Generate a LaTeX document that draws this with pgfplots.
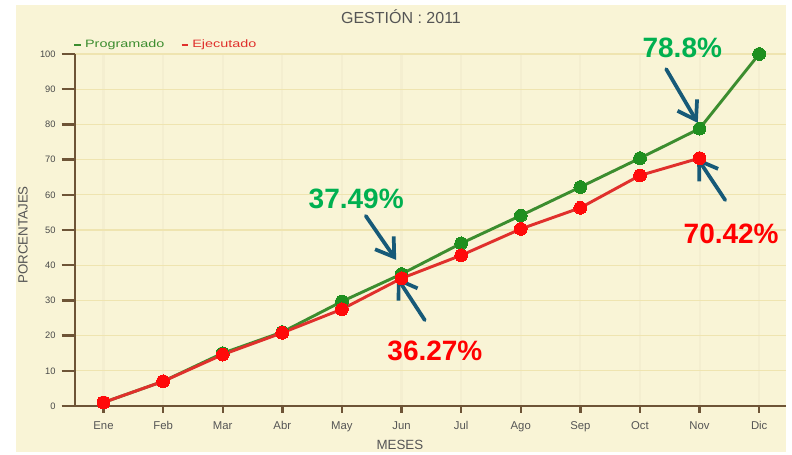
\documentclass[border=0pt]{standalone}
\usepackage{fontspec}
\setmainfont{Liberation Sans}
\newfontfamily\legfont{Liberation Sans}[FakeStretch=1.35]
\usepackage{pgfplots}
\pgfplotsset{compat=1.18}
\usetikzlibrary{arrows.meta}
\definecolor{panel}{HTML}{F9F4D6}
\definecolor{gridc}{HTML}{EFE4B0}
\definecolor{vgridc}{HTML}{F4EED0}
\definecolor{axisc}{HTML}{6E5436}
\definecolor{pgline}{HTML}{3C8D2F}
\definecolor{pgmark}{HTML}{1F8F1F}
\definecolor{exline}{HTML}{E0302C}
\definecolor{exmark}{HTML}{FF0A0A}
\definecolor{annG}{HTML}{00B050}
\definecolor{annR}{HTML}{FF0000}
\definecolor{arrc}{HTML}{175A78}
\definecolor{txtc}{HTML}{555555}
\definecolor{tickc}{HTML}{4A4A4A}
\begin{document}
\begin{tikzpicture}
\begin{scope}[x=0.75pt,y=-0.75pt,xshift=-56.25pt,yshift=304.5pt]
\fill[white] (0,0) rectangle (792,452);
\fill[panel] (16,5) rectangle (786,452);
\useasboundingbox (0,0) rectangle (792,452);
\end{scope}
\begin{axis}[
  at={(0,0)}, anchor=south west,
  scale only axis,
  width=533.25pt, height=264pt,
  xmin=-0.478, xmax=11.45, ymin=0, ymax=100,
  clip=false,
  axis x line=bottom, axis y line=left,
  axis line style={-, draw=axisc, line width=2pt},
  xtick={0,...,11},
  xticklabels={Ene,Feb,Mar,Abr,May,Jun,Jul,Ago,Sep,Oct,Nov,Dic},
  ytick={0,10,...,100},
  tick align=outside,
  major tick length=10pt,
  tick style={draw=axisc, line width=1.8pt},
  xtick style={/pgfplots/major tick length=5pt},
  /pgf/number format/assume math mode=true,
  yticklabel style={font=\fontsize{7}{8}\selectfont, text=tickc, xshift=-1pt},
  xticklabel style={font=\fontsize{8.5}{9}\selectfont, text=txtc, yshift=2.5pt, text height=6.5pt, text depth=2pt},
  ymajorgrids, xmajorgrids,
  y grid style={draw=gridc, line width=0.9pt},
  x grid style={draw=vgridc, line width=1.6pt},
  title={GESTIÓN : 2011},
  title style={at={(rel axis cs:0.4585,1.0824)}, anchor=center, font=\fontsize{12}{14}\selectfont, text=txtc},
  xlabel={MESES},
  xlabel style={at={(rel axis cs:0.457,-0.111)}, anchor=center, font=\fontsize{10}{12}\selectfont, text=txtc},
  ylabel={PORCENTAJES},
  ylabel style={at={(rel axis cs:-0.0731,0.486)}, anchor=center, rotate=0, font=\fontsize{10}{12}\selectfont, text=txtc},
  legend style={at={(rel axis cs:-0.003,1.026)}, anchor=west, draw=none, fill=none,
    font=\legfont\fontsize{8}{9}\selectfont, inner sep=0pt,
    /tikz/every even column/.append style={column sep=10pt}},
  legend columns=2,
  legend image code/.code={\draw[#1, mark=none, line width=2pt] (0pt,0pt) -- (5pt,0pt);},
]
\addplot[pgline, line width=2.2pt, mark=*, mark size=4.8pt, mark options={fill=pgmark, draw=pgmark, line width=0pt}]
  coordinates {(0,1) (1,7) (2,15) (3,21) (4,29.7) (5,37.49) (6,46.2) (7,54.1) (8,62.2) (9,70.4) (10,78.8) (11,100)};
\addlegendentry{\textcolor{pgline}{Programado}}
\addplot[exline, line width=2.2pt, mark=*, mark size=4.8pt, mark options={fill=exmark, draw=exmark, line width=0pt}]
  coordinates {(0,1) (1,7) (2,14.6) (3,20.8) (4,27.5) (5,36.27) (6,42.8) (7,50.3) (8,56.3) (9,65.5) (10,70.42)};
\addlegendentry{\textcolor{exline}{Ejecutado}}
\node[font=\bfseries\fontsize{21}{24}\selectfont, text=annG] at (axis cs:4.24,58.8) {37.49\%};
\node[font=\bfseries\fontsize{21}{24}\selectfont, text=annR] at (axis cs:5.56,15.6) {36.27\%};
\node[font=\bfseries\fontsize{21}{24}\selectfont, text=annG] at (axis cs:9.71,101.7) {78.8\%};
\node[font=\bfseries\fontsize{21}{24}\selectfont, text=annR] at (axis cs:10.53,48.9) {70.42\%};
\tikzset{annarrow/.style={arrc, line width=2.8pt, line cap=round, -{Straight Barb[length=13pt,width=17pt]}}}
\draw[annarrow] (axis cs:4.40,54.0) -- (axis cs:4.91,41.5);
\draw[annarrow] (axis cs:5.39,24.4) -- (axis cs:4.92,36.6);
\draw[annarrow] (axis cs:9.44,95.7) -- (axis cs:9.97,80.4);
\draw[annarrow] (axis cs:10.43,58.5) -- (axis cs:9.96,70.5);
\end{axis}
\end{tikzpicture}
\end{document}
